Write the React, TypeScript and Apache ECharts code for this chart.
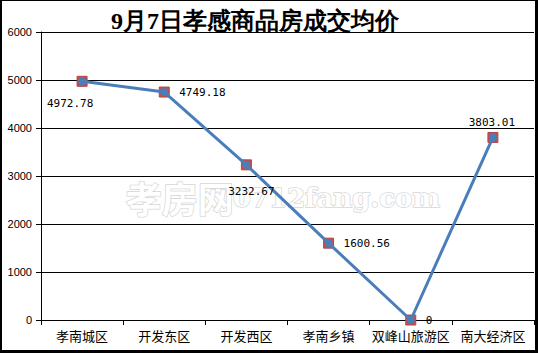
import React, { useEffect, useRef } from "react";
import * as echarts from "echarts";

const categories = ["孝南城区", "开发东区", "开发西区", "孝南乡镇", "双峰山旅游区", "南大经济区"];
const values = [4972.78, 4749.18, 3232.67, 1600.56, 0, 3803.01];
const labelTexts = ["4972.78", "4749.18", "3232.67", "1600.56", "0", "3803.01"];
const yTicks = { min: 0, max: 6000, interval: 1000 };
const titleText = "9月7日孝感商品房成交均价";

export default function App() {
  const ref = useRef<HTMLDivElement>(null);
  useEffect(() => {
    if (!ref.current) return;
    const chart = echarts.init(ref.current, undefined, { renderer: "svg" });
    const labelPos: any[] = [
      { position: "bottom", offset: [-12, 8] },
      { position: "right", offset: [6, 0] },
      { position: "bottom", offset: [5, 12] },
      { position: "right", offset: [6, 0] },
      { position: "right", offset: [6, 0] },
      { position: "top", offset: [-1, 0] },
    ];
    chart.setOption({
      animation: false,
      backgroundColor: "#fff",
      title: {
        text: titleText,
        left: 106,
        top: 4,
        textStyle: { fontSize: 24, fontWeight: "bold", color: "#000", fontFamily: "serif" },
      },
      graphic: [
        {
          type: "text",
          left: 125,
          top: 178,
          z: 0,
          silent: true,
          style: {
            text: "孝房网",
            fontSize: 36,
            fontWeight: "bold",
            fontFamily: "Noto Sans CJK SC",
            fill: "#ffffff",
            stroke: "#d6d6d6",
            lineWidth: 1.5,
          },
        },
        {
          type: "text",
          left: 232,
          top: 184,
          z: 0,
          silent: true,
          style: {
            text: "0712fang.com",
            fontSize: 26,
            fontWeight: "bold",
            fontFamily: "DejaVu Serif",
            fill: "#ffffff",
            stroke: "#d6d6d6",
            lineWidth: 1.5,
          },
        },
      ],
      grid: { left: 41, right: 4, top: 32, bottom: 33 },
      xAxis: {
        type: "category",
        data: categories,
        boundaryGap: true,
        axisLine: { lineStyle: { color: "#000", width: 1 } },
        axisTick: { show: true, length: 5, lineStyle: { color: "#000" } },
        axisLabel: { color: "#000", fontSize: 13, fontFamily: "Noto Sans CJK SC", margin: 9, interval: 0 },
      },
      yAxis: {
        type: "value",
        min: yTicks.min,
        max: yTicks.max,
        interval: yTicks.interval,
        axisLine: { show: true, lineStyle: { color: "#000", width: 1 } },
        axisTick: { show: true, length: 5, lineStyle: { color: "#000" } },
        axisLabel: {
          color: "#000",
          fontSize: 11,
          fontFamily: "Liberation Sans",
          margin: 9,
          formatter: (v: number) => String(v),
        },
        splitLine: { show: true, lineStyle: { color: "#000", width: 1 } },
      },
      series: [
        {
          type: "line",
          data: values,
          z: 2,
          symbol: "rect",
          symbolSize: 10,
          showAllSymbol: true,
          lineStyle: { opacity: 0 },
          itemStyle: { color: "#C0504D", borderColor: "#B24744", borderWidth: 1 },
          silent: true,
        },
        {
          type: "line",
          z: 3,
          data: values.map((v, i) => ({
            value: v,
            label: {
              show: true,
              formatter: labelTexts[i],
              ...labelPos[i],
            },
          })),
          symbol: "circle",
          symbolSize: 8,
          showAllSymbol: true,
          lineStyle: { color: "#4A7EBB", width: 3 },
          itemStyle: { color: "#4A7EBB" },
          label: { color: "#000", fontSize: 11, fontFamily: "DejaVu Sans Mono" },
        },
      ],
    });
    return () => chart.dispose();
  }, []);
  return (
    <div style={{ position: "fixed", left: 0, top: 0, width: 538, height: 353 }}>
      <div ref={ref} style={{ position: "absolute", left: 0, top: 0, width: 538, height: 353 }} />
      <div
        style={{
          position: "absolute",
          left: 0,
          top: 0,
          width: 538,
          height: 353,
          boxSizing: "border-box",
          borderLeft: "2px solid #000",
          borderTop: "1px solid #000",
          borderRight: "3px solid #000",
          borderBottom: "3px solid #000",
          pointerEvents: "none",
        }}
      />
    </div>
  );
}
